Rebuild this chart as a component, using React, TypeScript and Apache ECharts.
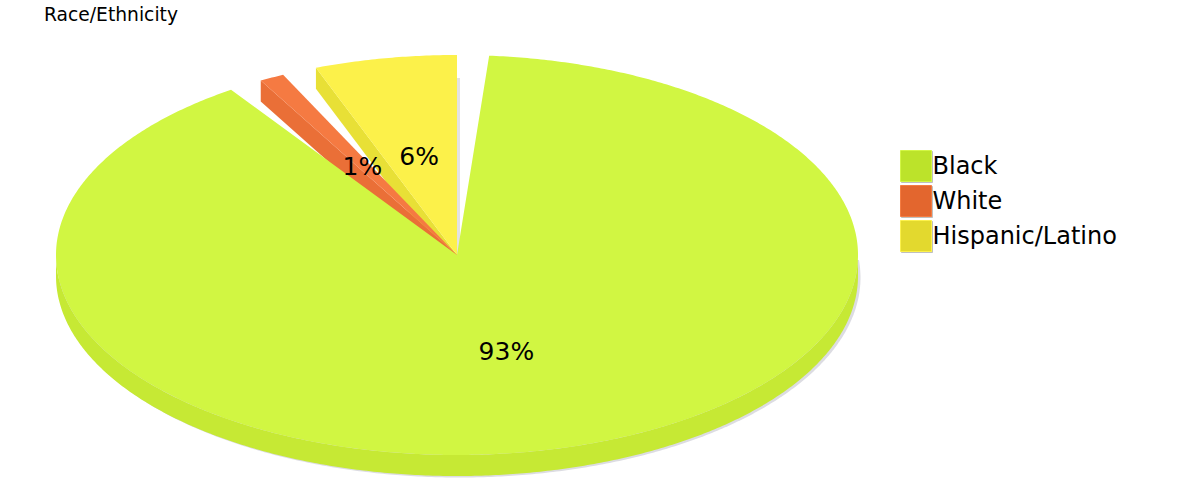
import React, { useEffect, useRef } from "react";
import * as echarts from "echarts";

const categories = ["Black", "White", "Hispanic/Latino"];
const shares = [93, 1, 6];
const legendColors = ["#bce32c", "#e3662f", "#e3d92f"];
const legendBorders = ["#d2f645", "#f47b43", "#fcf14b"];
const topColors = ["#d1f642", "#f57a42", "#fcf14a"];
const sideColors = ["#c6e934", "#ea6f37", "#e8e036"];
const trimStart = [4.6, -4.1, 1];
const trimEnd = [-9.1, -4.1, 0];

const CX = 457;
const CY = 255;
const RX = 401;
const RY = 200;
const DEPTH = 21;
const FONT = "DejaVu Sans";

const pt = (deg: number, dy = 0, dx = 0, f = 1): number[] => {
  const a = (deg * Math.PI) / 180;
  return [CX + dx + RX * f * Math.sin(a), CY + dy - RY * f * Math.cos(a)];
};

const arc = (from: number, to: number, dy = 0, dx = 0): number[][] => {
  const out: number[][] = [];
  const n = Math.max(2, Math.ceil(Math.abs(to - from) * 2));
  for (let i = 0; i <= n; i++) out.push(pt(from + ((to - from) * i) / n, dy, dx));
  return out;
};

const sliceRange = (idx: number): [number, number] => {
  const before = shares.slice(0, idx).reduce((s, v) => s + v, 0);
  const total = shares.reduce((s, v) => s + v, 0);
  const a = (before / total) * 360;
  const b = ((before + shares[idx]) / total) * 360;
  return [a + trimStart[idx], b + trimEnd[idx]];
};

const renderSlice = (idx: number) => () => {
  const [a, b] = sliceRange(idx);
  const children: any[] = [];
  const apex = [CX, CY];
  if (idx === 0) {
    // drop shadow of the front of the pie, the yellow slice's shadow, and the rim
    children.push({
      type: "polygon",
      shape: { points: arc(85, 275, DEPTH + 1.5, 2.5) },
      style: { fill: "#dcdce2" },
    });
    children.push({
      type: "polygon",
      shape: { points: [[CX, CY - 177], [CX + 3, CY - 177], [CX + 3, CY], [CX, CY]] },
      style: { fill: "#e2e2e2" },
    });
    children.push({
      type: "polygon",
      shape: { points: [...arc(90, 270, 0), ...arc(270, 90, DEPTH)] },
      style: { fill: sideColors[idx] },
    });
  } else {
    // cut face of the slice: a full-height wall, partly hidden by the slices in front
    const p = pt(a);
    children.push({
      type: "polygon",
      shape: { points: [apex, p, [p[0], p[1] + DEPTH], [CX, CY + DEPTH]] },
      style: { fill: sideColors[idx] },
    });
  }
  children.push({
    type: "polygon",
    shape: { points: [apex, ...arc(a, b)] },
    style: { fill: topColors[idx] },
  });
  return { type: "group", children };
};

const renderLabel = (params: any, api: any) => {
  const [a, b] = sliceRange(params.dataIndex);
  const mid = pt((a + b) / 2, 0, 0, 0.5);
  return {
    type: "text",
    x: mid[0] - 2,
    y: mid[1],
    style: {
      text: `${api.value(0)}%`,
      fill: "#000",
      font: `25px "${FONT}"`,
      align: "center",
      verticalAlign: "middle",
    },
  };
};

export default function App() {
  const ref = useRef<HTMLDivElement>(null);
  useEffect(() => {
    const chart = echarts.init(ref.current!, undefined, { renderer: "svg" });
    chart.setOption({
      animation: false,
      title: {
        text: "Race/Ethnicity",
        left: 39,
        top: 0,
        textStyle: { fontFamily: FONT, fontSize: 18.7, fontWeight: "normal", color: "#000" },
      },
      legend: {
        orient: "vertical",
        left: 895,
        top: 145,
        itemWidth: 31,
        itemHeight: 31,
        itemGap: 3,
        icon: "rect",
        selectedMode: false,
        textStyle: { fontFamily: FONT, fontSize: 24, color: "#000", padding: [0, 0, 0, -4] },
        data: categories.map((name, i) => ({
          name,
          itemStyle: {
            color: legendColors[i],
            borderColor: legendBorders[i],
            borderWidth: 1,
            shadowColor: "rgba(0,0,0,0.25)",
            shadowBlur: 1,
            shadowOffsetX: 1,
            shadowOffsetY: 1,
          },
        })),
      },
      series: [
        ...categories.map((name, i) => ({
          type: "custom",
          name,
          coordinateSystem: "none",
          silent: true,
          z: 5 - i,
          itemStyle: { color: legendColors[i] },
          data: [shares[i]],
          renderItem: renderSlice(i),
        })),
        {
          type: "custom",
          name: "Share",
          coordinateSystem: "none",
          silent: true,
          z: 10,
          data: shares,
          renderItem: renderLabel,
        },
      ],
    });
    return () => chart.dispose();
  }, []);
  return (
    <div
      ref={ref}
      style={{ position: "absolute", left: 0, top: 0, width: 1200, height: 500, background: "#fff" }}
    />
  );
}
